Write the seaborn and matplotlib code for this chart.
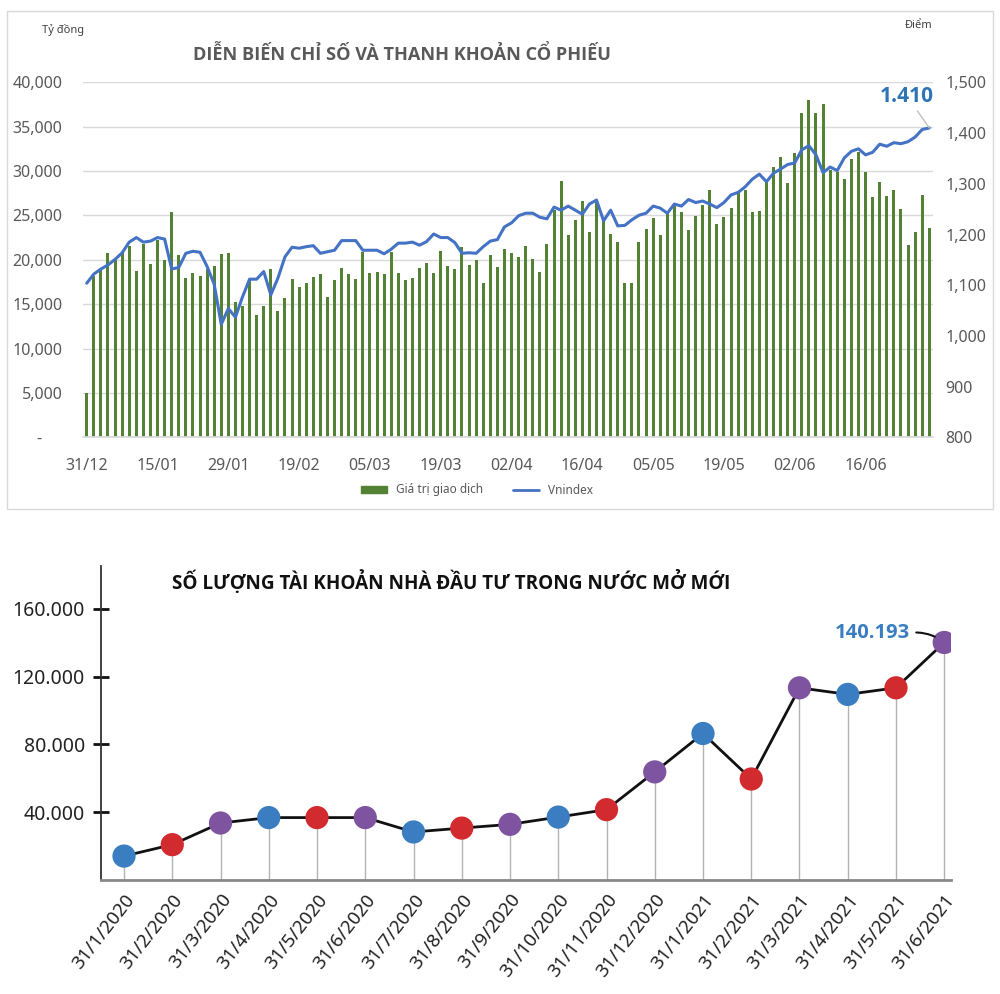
import pandas as pd
import matplotlib
matplotlib.use("Agg")
import matplotlib.pyplot as plt
from matplotlib.patches import Rectangle, Patch
from matplotlib.lines import Line2D
from matplotlib.ticker import FuncFormatter, MultipleLocator
import seaborn as sns

# ---- top chart: daily trading value (bn VND) and VN-Index ----
trade_value = [
    5000, 18200, 19000, 20750, 20000, 20800, 21600, 18750, 21800, 19500,
    22250, 20000, 25380, 20570, 18000, 18570, 18200, 18950, 19300, 20700,
    20750, 15300, 14800, 17700, 13800, 14800, 18950, 14200, 15750, 17800,
    17000, 17350, 18050, 18390, 15800, 17750, 19140, 18390, 17860, 20940,
    18570, 18650, 18390, 20940, 18500, 17750, 17930, 19140, 19630, 18500,
    21020, 19330, 18990, 21430, 19440, 20000, 17370, 20530, 19250, 21210,
    20830, 20300, 21580, 20080, 18690, 21770, 25640, 28840, 22750, 24440,
    26660, 23160, 26770, 24330, 22970, 21960, 17370, 17370, 21960, 23500,
    24740, 22820, 25270, 26020, 25420, 23390, 24890, 26210, 27820, 24030,
    24820, 25790, 27520, 27820, 25340, 25530, 28840, 30420, 31620, 28650,
    32000, 36500, 38000, 36500, 37560, 30120, 29930, 29060, 31320, 32190,
    29930, 27030, 28800, 27180, 27860, 25720, 21660, 23090, 27300, 23540,
]
vnindex = [
    1104, 1122, 1132, 1140, 1151, 1164, 1185, 1194, 1185, 1187,
    1194, 1191, 1132, 1135, 1163, 1167, 1165, 1137, 1102, 1023,
    1054, 1037, 1077, 1112, 1112, 1127, 1081, 1114, 1156, 1175,
    1173, 1176, 1178, 1163, 1166, 1169, 1188, 1188, 1188, 1169,
    1169, 1169, 1162, 1171, 1183, 1183, 1185, 1179, 1186, 1201,
    1194, 1194, 1184, 1163, 1164, 1163, 1176, 1187, 1190, 1215,
    1223, 1237, 1242, 1242, 1234, 1231, 1254, 1248, 1256, 1248,
    1240, 1260, 1268, 1227, 1248, 1217, 1218, 1229, 1238, 1242,
    1256, 1252, 1242, 1260, 1256, 1269, 1263, 1266, 1260, 1253,
    1263, 1278, 1283, 1294, 1309, 1319, 1304, 1321, 1329, 1338,
    1341, 1367, 1375, 1357, 1322, 1333, 1326, 1351, 1364, 1369,
    1357, 1362, 1378, 1374, 1381, 1379, 1383, 1392, 1407, 1410,
]
date_ticks = ["31/12", "15/01", "29/01", "19/02", "05/03", "19/03",
              "02/04", "16/04", "05/05", "19/05", "02/06", "16/06"]

# ---- bottom chart: new domestic investor accounts per month ----
month_labels = ["31/1/2020", "31/2/2020", "31/3/2020", "31/4/2020", "31/5/2020",
                "31/6/2020", "31/7/2020", "31/8/2020", "31/9/2020", "31/10/2020",
                "31/11/2020", "31/12/2020", "31/1/2021", "31/2/2021", "31/3/2021",
                "31/4/2021", "31/5/2021", "31/6/2021"]
new_accounts = [13960, 20700, 33500, 36700, 36700, 36700, 28200, 30500, 32700,
                37000, 41400, 63700, 86400, 59500, 113400, 109500, 113400, 140193]

GREEN = "#548235"
BLUE = "#4472c4"
GREY_TXT = "#595959"
DOT_COLORS = ["#3a7dc0", "#d12a2f", "#7e54a0"]
BOLD_FONT = ["Open Sans", "Liberation Sans", "DejaVu Sans"]

sns.set_theme(style="white")
plt.rcParams["font.family"] = ["Noto Sans", "DejaVu Sans"]

fig = plt.figure(figsize=(10, 9.94), dpi=100)

# frame round the top chart
fig.patches.append(Rectangle((0.007, 1 - 509 / 994), 0.986, 498 / 994,
                             transform=fig.transFigure, fill=False,
                             edgecolor="#d9d9d9", lw=1))

# ---------- top chart ----------
n = len(trade_value)
top = pd.DataFrame({"day": range(n), "value": trade_value, "index": vnindex})

ax1 = fig.add_axes([0.0832, 0.5599, 0.8496, 0.3573])
sns.barplot(data=top, x="day", y="value", color=GREEN, saturation=1,
            width=0.42, linewidth=0, ax=ax1)
ax1.set_xlim(-0.5, n - 0.5)
ax1.set_ylim(0, 40000)
ax1.yaxis.set_major_locator(MultipleLocator(5000))
ax1.yaxis.set_major_formatter(FuncFormatter(lambda v, p: "-     " if v == 0 else f"{v:,.0f}"))
ax1.set_xticks(range(0, n, 10))
ax1.set_xticklabels(date_ticks)
ax1.set_xlabel("")
ax1.set_ylabel("")
ax1.grid(axis="y", color="#d9d9d9", lw=1)
ax1.set_axisbelow(True)
for s in ["top", "right", "left"]:
    ax1.spines[s].set_visible(False)
ax1.spines["bottom"].set_color("#d9d9d9")
ax1.tick_params(axis="both", length=0, labelsize=11.5, labelcolor=GREY_TXT)
ax1.tick_params(axis="x", pad=15)
ax1.tick_params(axis="y", pad=15)

ax2 = ax1.twinx()
sns.lineplot(data=top, x="day", y="index", color=BLUE, lw=2.2, ax=ax2)
ax2.set_ylim(800, 1500)
ax2.yaxis.set_major_locator(MultipleLocator(100))
ax2.yaxis.set_major_formatter(FuncFormatter(lambda v, p: f"{v:,.0f}"))
ax2.set_ylabel("")
ax2.grid(False)
for s in ax2.spines.values():
    s.set_visible(False)
ax2.tick_params(axis="y", length=0, labelsize=11.5, labelcolor=GREY_TXT, pad=9)

ax2.annotate(f"{vnindex[-1]:,}".replace(",", "."), xy=(n - 1, vnindex[-1]),
             xytext=(-16, 23), textcoords="offset points", ha="center", va="center",
             fontsize=15, fontweight="bold", color="#2e75b6", family=BOLD_FONT,
             arrowprops=dict(arrowstyle="-", color="#bfbfbf", lw=1, shrinkA=1, shrinkB=0))

fig.text(0.193, 1 - 54 / 994, "DIỄN BIẾN CHỈ SỐ VÀ THANH KHOẢN CỔ PHIẾU",
         fontsize=13.1, fontweight="bold", color=GREY_TXT, va="center", family=BOLD_FONT)
fig.text(0.042, 1 - 30 / 994, "Tỷ đồng", fontsize=8, color="#404040", va="center")
fig.text(0.905, 1 - 26 / 994, "Điểm", fontsize=8, color="#404040", va="center")

fig.legend(handles=[Patch(color=GREEN, label="Giá trị giao dịch"),
                    Line2D([], [], color=BLUE, lw=2, label="Vnindex")],
           loc="center", bbox_to_anchor=(0.477, 1 - 490 / 994), ncol=2,
           frameon=False, fontsize=8.5, handlelength=2.2, handleheight=0.5,
           columnspacing=2.5, labelcolor=GREY_TXT)

# ---------- bottom chart ----------
bot = pd.DataFrame({"pos": range(len(month_labels)), "accounts": new_accounts})
bot["group"] = ["g%d" % (i % 3) for i in bot["pos"]]

ax3 = fig.add_axes([0.101, 0.115, 0.85, 0.3156])
ax3.vlines(bot["pos"], 0, bot["accounts"], color="#b3b3b3", lw=1, zorder=1)
sns.lineplot(data=bot, x="pos", y="accounts", color="#111111", lw=2, ax=ax3, zorder=2)
sns.scatterplot(data=bot, x="pos", y="accounts", hue="group",
                hue_order=["g0", "g1", "g2"], palette=DOT_COLORS, s=280,
                linewidth=0, legend=False, ax=ax3, zorder=3)
ax3.set_xlim(-0.477, 17.14)
ax3.set_ylim(0, 185400)
ax3.set_yticks([40000, 80000, 120000, 160000])
ax3.yaxis.set_major_formatter(FuncFormatter(lambda v, p: f"{v:,.0f}".replace(",", ".")))
ax3.set_xticks(bot["pos"])
ax3.set_xticklabels(month_labels, rotation=52, ha="right", va="top",
                    rotation_mode="anchor")
ax3.set_xlabel("")
ax3.set_ylabel("")
ax3.spines["top"].set_visible(False)
ax3.spines["right"].set_visible(False)
ax3.spines["left"].set_color("#333333")
ax3.spines["left"].set_linewidth(1.3)
ax3.spines["bottom"].set_color("#888888")
ax3.spines["bottom"].set_linewidth(2)
ax3.tick_params(axis="y", direction="inout", length=11, width=2, color="#111111",
                labelsize=14, labelcolor="#222222", pad=6, left=True)
ax3.tick_params(axis="x", length=0, labelsize=13.5, labelcolor="#222222", pad=8)

ax3.annotate(f"{new_accounts[-1]:,}".replace(",", "."),
             xy=(len(new_accounts) - 1, new_accounts[-1]),
             xytext=(-24.5, 7), textcoords="offset points", ha="right", va="center",
             fontsize=14.5, fontweight="bold", color="#3a7dc0", family=BOLD_FONT,
             arrowprops=dict(arrowstyle="-", color="#111111", lw=1.5, shrinkA=2,
                             shrinkB=8, relpos=(1, 0.5),
                             connectionstyle="arc3,rad=-0.2"))

fig.text(0.172, 1 - 582 / 994, "SỐ LƯỢNG TÀI KHOẢN NHÀ ĐẦU TƯ TRONG NƯỚC MỞ MỚI",
         fontsize=13.6, fontweight="bold", color="#111111", va="center", family=BOLD_FONT)

fig.savefig("out.png", dpi=100)
